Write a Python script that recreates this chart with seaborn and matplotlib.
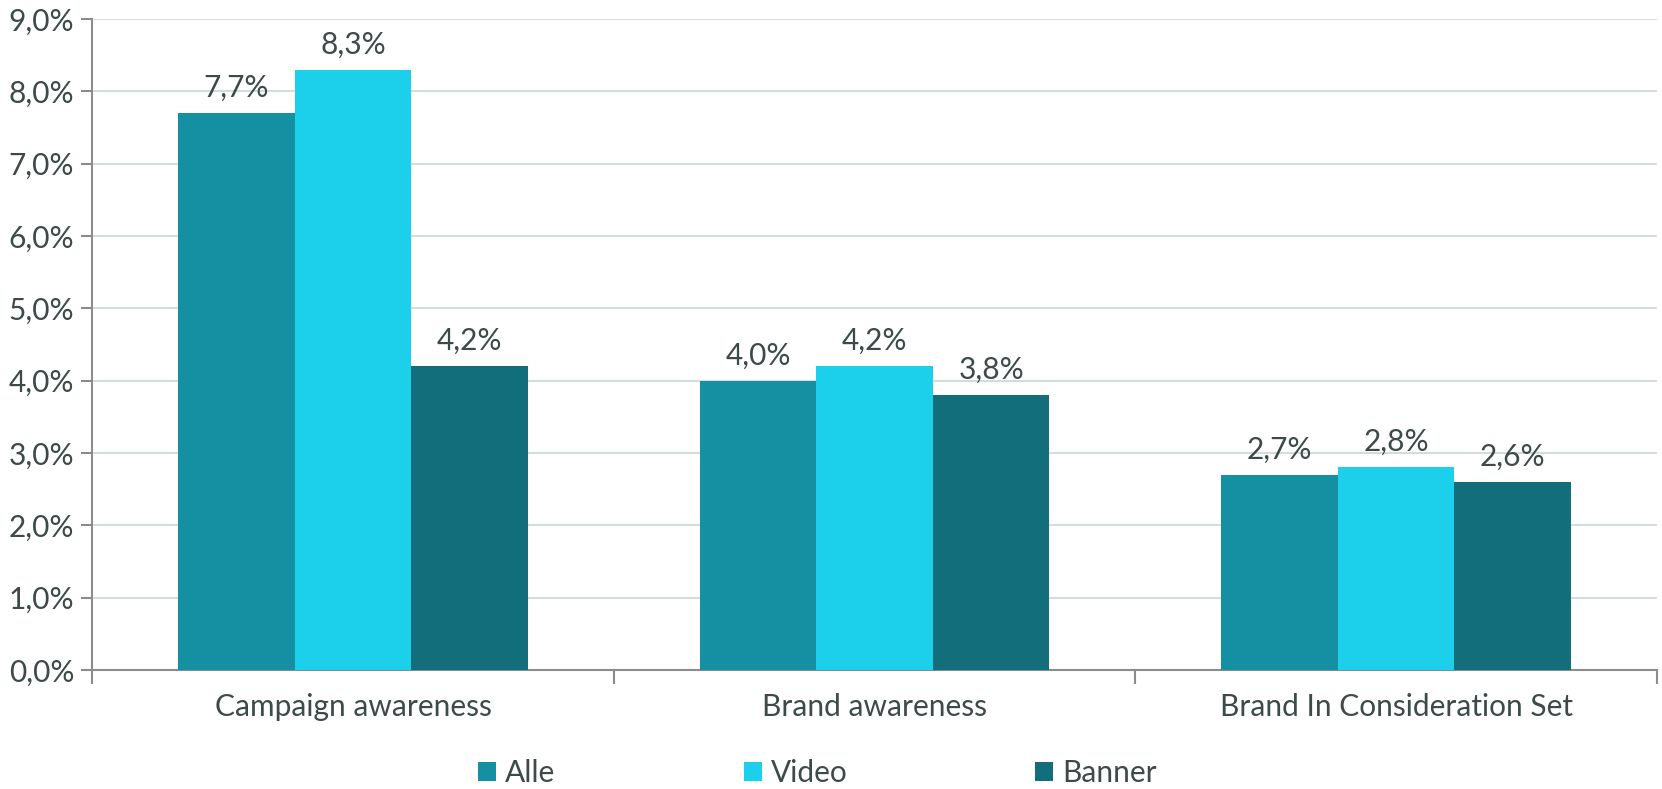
import matplotlib
matplotlib.use("Agg")
import matplotlib.pyplot as plt
import seaborn as sns
import pandas as pd
from matplotlib.ticker import FixedLocator, FuncFormatter

categories = ["Campaign awareness", "Brand awareness", "Brand In Consideration Set"]
series = ["Alle", "Video", "Banner"]
alle = [7.7, 4.0, 2.7]
video = [8.3, 4.2, 2.8]
banner = [4.2, 3.8, 2.6]
y_ticks = [0, 1, 2, 3, 4, 5, 6, 7, 8, 9]

colors = ["#1590A3", "#1CCFEA", "#136E7B"]
text_color = "#3E4A4A"
fs = 21.5

rows = []
for name, vals in zip(series, [alle, video, banner]):
    for cat, v in zip(categories, vals):
        rows.append({"Kategori": cat, "Serie": name, "Verdi": v})
df = pd.DataFrame(rows)

sns.set_theme(style="white")
plt.rcParams["font.family"] = ["Lato", "DejaVu Sans"]
plt.rcParams["font.weight"] = "normal"

fig = plt.figure(figsize=(16.62, 7.89), dpi=100)
ax = fig.add_axes([0.0555, 0.151, 0.9415, 0.825])

sns.barplot(data=df, x="Kategori", y="Verdi", hue="Serie", order=categories,
            hue_order=series, palette=colors, width=0.67, saturation=1,
            errorbar=None, ax=ax, zorder=3, linewidth=0)

def pct(v, pos=None):
    return f"{v:.1f}".replace(".", ",") + "%"

for cont in ax.containers:
    ax.bar_label(cont, labels=[pct(b.get_height()) for b in cont],
                 padding=8, fontsize=fs, color=text_color)

ax.set_ylim(0, 9)
ax.set_xlim(-0.5, 2.5)
ax.yaxis.set_major_locator(FixedLocator(y_ticks))
ax.yaxis.set_major_formatter(FuncFormatter(pct))
ax.grid(axis="y", color="#D3DEDC", linewidth=1.5, zorder=0)
ax.set_axisbelow(True)

ax.set_xlabel("")
ax.set_ylabel("")
for side in ["top", "right"]:
    ax.spines[side].set_visible(False)
for side in ["left", "bottom"]:
    ax.spines[side].set_color("#8C8C8C")
    ax.spines[side].set_linewidth(1.5)

ax.tick_params(axis="y", which="major", length=8, width=1.5, color="#8C8C8C",
               labelsize=fs, labelcolor=text_color, pad=5, left=True)
ax.tick_params(axis="x", which="major", length=0, labelsize=fs,
               labelcolor=text_color, pad=17)
ax.xaxis.set_minor_locator(FixedLocator([-0.5, 0.5, 1.5, 2.5]))
ax.tick_params(axis="x", which="minor", length=10, width=1.5,
               color="#8C8C8C", bottom=True)

ax.get_legend().remove()
handles, labels = ax.get_legend_handles_labels()
fig.legend(handles, labels, loc="center", bbox_to_anchor=(0.492, 0.02),
           ncol=3, frameon=False, fontsize=fs, labelcolor=text_color,
           handlelength=0.6, handleheight=0.6, handletextpad=0.3,
           columnspacing=6.3)

fig.savefig("out.png", dpi=100)
